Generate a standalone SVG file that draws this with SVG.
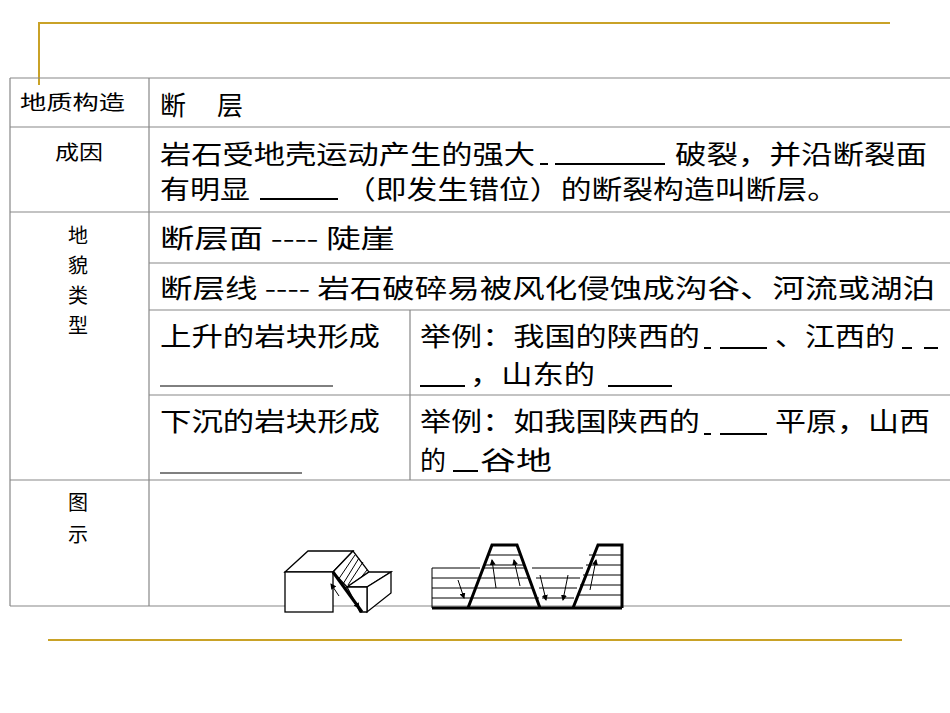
<svg xmlns="http://www.w3.org/2000/svg" width="950" height="713" viewBox="0 0 950 713">
<style>
.g{stroke:#c9a227;stroke-width:2;fill:none}
.t{stroke:#888;stroke-width:1.2;fill:none}
.m{font-family:"Noto Sans CJK SC","Liberation Sans",sans-serif;font-size:26px;fill:#000}
.s{font-family:"Noto Sans CJK SC","Liberation Sans",sans-serif;font-size:20px;fill:#000}
.u{stroke:#000;stroke-width:2}
.f{stroke:#000;stroke-width:1.3;fill:#fff}
.k{stroke:#000;stroke-width:3;fill:none}
.h{stroke:#000;stroke-width:1;fill:none}
</style>
<defs><marker id="a" markerWidth="6" markerHeight="6" refX="5" refY="3" orient="auto"><path d="M0,0L6,3L0,6z" fill="#000"/></marker></defs>
<g id="deco">
<path class="g" d="M39,85V23H890"/>
<path class="g" d="M48,640H902"/>
</g>
<g id="table">
<path class="t" d="M10,78H950M10,127H950M10,212H950M149,263H950M149,310H950M149,395H950M10,480H950M10,606H950M10,78V606M149,78V606M410,310V480"/>
</g>
<g id="labels">
<text class="s" x="20" y="110" textLength="105" lengthAdjust="spacingAndGlyphs">地质构造</text>
<text class="s" x="55" y="160" textLength="48" lengthAdjust="spacingAndGlyphs">成因</text>
<text class="s" x="68" y="243">地</text><text class="s" x="68" y="273">貌</text><text class="s" x="68" y="303">类</text><text class="s" x="68" y="333">型</text>
<text class="s" x="68" y="510">图</text><text class="s" x="68" y="542">示</text>
</g>
<g id="content">
<text class="m" x="160" y="115">断</text><text class="m" x="217" y="115">层</text>
<text class="m" x="160" y="164" textLength="375" lengthAdjust="spacingAndGlyphs">岩石受地壳运动产生的强大</text>
<line class="u" x1="540" y1="164" x2="548" y2="164"/><line class="u" x1="555" y1="164" x2="665" y2="164"/>
<text class="m" x="675" y="164" textLength="252" lengthAdjust="spacingAndGlyphs">破裂，并沿断裂面</text>
<text class="m" x="160" y="199" textLength="90" lengthAdjust="spacingAndGlyphs">有明显</text>
<line class="u" x1="260" y1="199" x2="338" y2="199"/>
<text class="m" x="345" y="199" textLength="493" lengthAdjust="spacingAndGlyphs">（即发生错位）的断裂构造叫断层。</text>
<text class="m" x="160" y="248" textLength="235" lengthAdjust="spacingAndGlyphs">断层面 ---- 陡崖</text>
<text class="m" x="160" y="298" textLength="775" lengthAdjust="spacingAndGlyphs">断层线 ---- 岩石破碎易被风化侵蚀成沟谷、河流或湖泊</text>
<text class="m" x="160" y="346" textLength="220" lengthAdjust="spacingAndGlyphs">上升的岩块形成</text>
<line class="h" x1="160" y1="386" x2="333" y2="386"/>
<text class="m" x="420" y="346" textLength="280" lengthAdjust="spacingAndGlyphs">举例：我国的陕西的</text>
<line class="u" x1="704" y1="348" x2="711" y2="348"/><line class="u" x1="720" y1="348" x2="767" y2="348"/>
<text class="m" x="775" y="346" textLength="120" lengthAdjust="spacingAndGlyphs">、江西的</text>
<line class="u" x1="902" y1="348" x2="912" y2="348"/><line class="u" x1="924" y1="348" x2="938" y2="348"/>
<line class="u" x1="420" y1="386" x2="465" y2="386"/>
<text class="m" x="470" y="384" textLength="125" lengthAdjust="spacingAndGlyphs">，山东的</text>
<line class="u" x1="608" y1="386" x2="672" y2="386"/>
<text class="m" x="160" y="431" textLength="220" lengthAdjust="spacingAndGlyphs">下沉的岩块形成</text>
<line class="h" x1="160" y1="473" x2="302" y2="473"/>
<text class="m" x="420" y="431" textLength="280" lengthAdjust="spacingAndGlyphs">举例：如我国陕西的</text>
<line class="u" x1="704" y1="434" x2="711" y2="434"/><line class="u" x1="720" y1="434" x2="767" y2="434"/>
<text class="m" x="775" y="431" textLength="155" lengthAdjust="spacingAndGlyphs">平原，山西</text>
<text class="m" x="420" y="470">的</text>
<line class="u" x1="453" y1="471" x2="478" y2="471"/>
<text class="m" x="480" y="470" textLength="72" lengthAdjust="spacingAndGlyphs">谷地</text>
</g>
<g id="fig1">
<path class="f" d="M285,572L308,551H353L333,572Z"/>
<rect class="f" x="285" y="572" width="48" height="40"/>
<path class="f" d="M333,572L353,551L369,572L347,587Z"/>
<path class="h" d="M338,580L355,555M343,584L359,558M348,585L363,562M355,585L367,570"/>
<path class="f" d="M347,587H367L391,572H369Z"/>
<path class="f" d="M367,587L391,572V593L367,612Z"/>
<path class="f" d="M347,587H367V612H360Z"/>
<path class="k" d="M333,572L362,612"/>
<line class="h" x1="339" y1="596" x2="331" y2="584" marker-end="url(#a)"/>
<line class="h" x1="351" y1="596" x2="359" y2="608" marker-end="url(#a)"/>
</g>
<g id="fig2">
<path class="h" d="M432,568V608M432,578H478M432,588H475M432,598H472M432,568H480"/>
<path class="h" d="M472,598H539M476,588H532M480,578H528M484,568H525"/>
<path class="h" d="M488,555H521M484,565H524"/>
<path class="h" d="M532,568H583M536,578H580M539,588H577M542,598H574"/>
<path class="h" d="M589,555H622M586,565H622M583,575H622M580,585H622M577,595H622"/>
<path class="k" d="M468,608L492,545H517L540,608"/>
<path class="k" d="M573,608L598,545H622V608"/>
<path class="k" d="M432,608H622"/>
<line class="h" x1="458" y1="580" x2="464" y2="598" marker-end="url(#a)"/>
<line class="h" x1="496" y1="588" x2="492" y2="560" marker-end="url(#a)"/>
<line class="h" x1="520" y1="586" x2="514" y2="560" marker-end="url(#a)"/>
<line class="h" x1="540" y1="575" x2="546" y2="600" marker-end="url(#a)"/>
<line class="h" x1="568" y1="575" x2="563" y2="600" marker-end="url(#a)"/>
<line class="h" x1="590" y1="590" x2="596" y2="560" marker-end="url(#a)"/>
</g>
</svg>
